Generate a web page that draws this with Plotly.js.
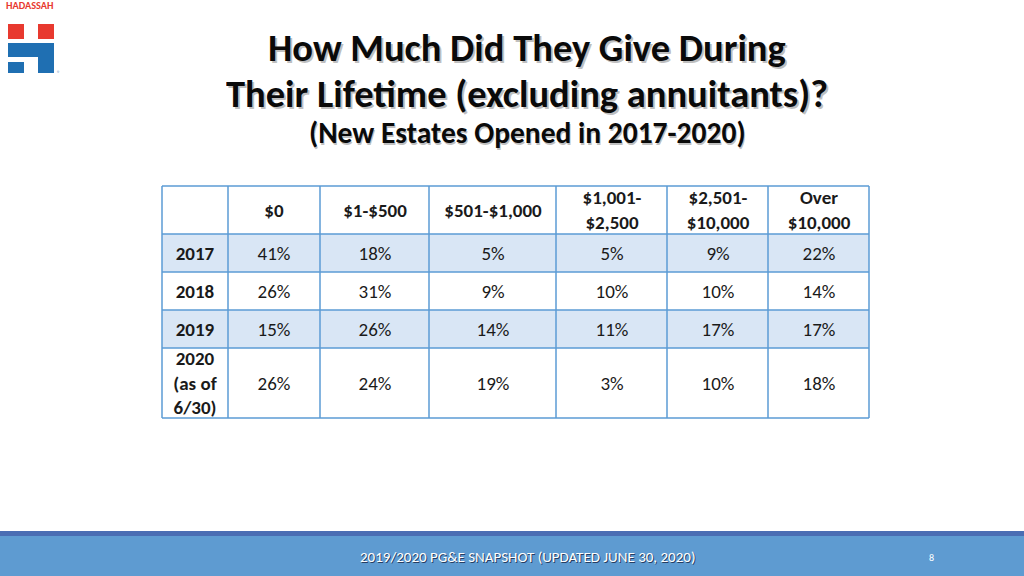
<!DOCTYPE html>
<html>
<head>
<meta charset="utf-8">
<script src="https://cdn.plot.ly/plotly-3.0.1.min.js"></script>
<style>html,body{margin:0;padding:0;background:#fff;}#chart{width:1024px;height:576px;}</style>
</head>
<body>
<div id="chart"></div>
<script>
// ---- data ----
const headers = ["", "$0", "$1-$500", "$501-$1,000", "$1,001-<br>$2,500", "$2,501-<br>$10,000", "Over<br>$10,000"];
const years = ["2017", "2018", "2019", "2020<br>(as of<br>6/30)"];
const giving0 = ["41%", "26%", "15%", "26%"];
const giving1to500 = ["18%", "31%", "26%", "24%"];
const giving501to1000 = ["5%", "9%", "14%", "19%"];
const giving1001to2500 = ["5%", "10%", "11%", "3%"];
const giving2501to10000 = ["9%", "10%", "17%", "10%"];
const givingOver10000 = ["22%", "14%", "17%", "18%"];

const titleLine1 = "How Much Did They Give During";
const titleLine2 = "Their Lifetime (excluding annuitants)?";
const titleLine3 = "(New Estates Opened in 2017-2020)";
const footerText = "2019/2020 PG&E SNAPSHOT (UPDATED JUNE 30, 2020)";
const pageNumber = "8";

// ---- styling ----
const FONT = "Carlito, Lato, 'Open Sans', sans-serif";
const BORDER = "#5b9bd5";
const BAND = "#d9e6f5";
const colWidths = [66, 92, 109, 127, 111, 101, 101];
const rowHeights = [48, 38, 38, 38, 70];
const PAD = 2;

const W = 1024, H = 576;
const px = x => x / W;
const py = y => 1 - y / H;

// cell edges (table units = pixels)
const xEdges = [0]; colWidths.forEach(w => xEdges.push(xEdges[xEdges.length - 1] + w));
const yEdges = [0]; rowHeights.forEach(h => yEdges.push(yEdges[yEdges.length - 1] + h));
const tableW = xEdges[xEdges.length - 1], tableH = yEdges[yEdges.length - 1];
const TX = 162, TY = 186;

const valueCols = [giving0, giving1to500, giving501to1000, giving1001to2500, giving2501to10000, givingOver10000];
const textGrid = [headers.map(h => h ? "<b>" + h + "</b>" : "")];
years.forEach((y, r) => textGrid.push(["<b>" + y + "</b>"].concat(valueCols.map(c => c[r]))));
const zGrid = textGrid.map((row, r) => row.map(() => (r % 2 === 1 ? 1 : 0)));

const heat = {
  type: "heatmap",
  x: xEdges, y: yEdges, z: zGrid,
  text: textGrid, texttemplate: "%{text}",
  textfont: {family: FONT, size: 19, color: "#1a1a1a"},
  colorscale: [[0, "#ffffff"], [1, BAND]], zmin: 0, zmax: 1,
  showscale: false, hoverinfo: "skip"
};

const shapes = [];
xEdges.forEach(x => shapes.push({type: "line", xref: "x", yref: "y", x0: x, x1: x, y0: 0, y1: tableH, line: {color: BORDER, width: 1.5}, layer: "above"}));
yEdges.forEach(y => shapes.push({type: "line", xref: "x", yref: "y", x0: 0, x1: tableW, y0: y, y1: y, line: {color: BORDER, width: 1.5}, layer: "above"}));

shapes.push(
  // footer band
  {type: "rect", xref: "paper", yref: "paper", x0: 0, x1: 1, y0: 0, y1: py(536), fillcolor: "#5e9bd1", line: {width: 0}, layer: "below"},
  {type: "rect", xref: "paper", yref: "paper", x0: 0, x1: 1, y0: py(536), y1: py(531), fillcolor: "#4a6db3", line: {width: 0}, layer: "below"},
  // logo
  {type: "rect", xref: "paper", yref: "paper", x0: px(8), x1: px(24), y0: py(39), y1: py(24), fillcolor: "#e8392f", line: {width: 0}},
  {type: "rect", xref: "paper", yref: "paper", x0: px(38), x1: px(54), y0: py(39), y1: py(24), fillcolor: "#e8392f", line: {width: 0}},
  {type: "rect", xref: "paper", yref: "paper", x0: px(8), x1: px(54), y0: py(57), y1: py(43), fillcolor: "#1f6fb2", line: {width: 0}},
  {type: "rect", xref: "paper", yref: "paper", x0: px(38), x1: px(54), y0: py(73), y1: py(57), fillcolor: "#1f6fb2", line: {width: 0}},
  {type: "rect", xref: "paper", yref: "paper", x0: px(8), x1: px(24), y0: py(73), y1: py(62), fillcolor: "#1f6fb2", line: {width: 0}}
);

function txt(text, x, y, size, color, opts) {
  return Object.assign({text: text, xref: "paper", yref: "paper", x: px(x), y: py(y), showarrow: false,
    xanchor: "center", yanchor: "middle", font: {family: FONT, size: size, color: color}}, opts || {});
}
const shadow = "rgba(0,0,0,0.25)";
const annotations = [
  txt("<b>" + titleLine1 + "</b>", 527, 47, 38.5, shadow, {xshift: 2, yshift: -2, height: 40}),
  txt("<b>" + titleLine1 + "</b>", 527, 47, 38.5, "#0a0a0a", {height: 40}),
  txt("<b>" + titleLine2 + "</b>", 527, 93, 38.5, shadow, {xshift: 2, yshift: -2, height: 40}),
  txt("<b>" + titleLine2 + "</b>", 527, 93, 38.5, "#0a0a0a", {height: 40}),
  txt("<b>" + titleLine3 + "</b>", 527, 133, 29.5, shadow, {xshift: 1.5, yshift: -1.5, height: 30}),
  txt("<b>" + titleLine3 + "</b>", 527, 133, 29.5, "#0a0a0a", {height: 30}),
  txt(footerText, 527, 557, 15, "rgba(20,30,60,0.75)", {xshift: 1, yshift: -1}),
  txt(footerText, 527, 557, 15, "#ffffff"),
  txt(pageNumber, 931, 557, 10, "#ffffff"),
  txt("<b>HADASSAH</b>", 30, 6, 10.3, "#e8392f"),
  txt("®", 58, 73, 6, "#1f6fb2")
];

const layout = {
  width: W, height: H,
  margin: {l: 0, r: 0, t: 0, b: 0},
  paper_bgcolor: "#ffffff", plot_bgcolor: "#ffffff",
  showlegend: false,
  xaxis: {range: [-PAD, tableW + PAD], domain: [px(TX - PAD), px(TX + tableW + PAD)], visible: false, fixedrange: true},
  yaxis: {range: [tableH + PAD, -PAD], domain: [py(TY + tableH + PAD), py(TY - PAD)], visible: false, fixedrange: true},
  shapes: shapes,
  annotations: annotations
};

Plotly.newPlot("chart", [heat], layout, {displayModeBar: false, staticPlot: true});
</script>
</body>
</html>
